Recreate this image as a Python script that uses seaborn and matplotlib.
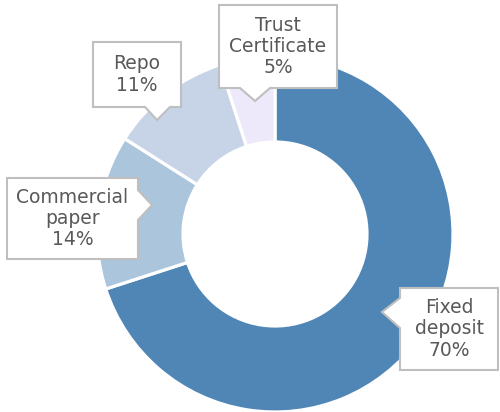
import matplotlib
matplotlib.use("Agg")
import matplotlib.pyplot as plt
from matplotlib.patches import Polygon
import seaborn as sns

# data
categories = ["Fixed deposit", "Commercial paper", "Repo", "Trust Certificate"]
shares = [70, 14, 11, 5]
colors = ["#4F86B6", "#ABC5DD", "#C7D4E8", "#EEE8FB"]

W, H = 500, 412

# callout layout in image pixels: box (x0, y0, x1, y1), pointer side, pointer base, tip
callouts = {
    "Trust Certificate": ((219, 5, 337, 88), "bottom", (240, 270), (255, 101)),
    "Repo": ((93, 42, 181, 107), "bottom", (145, 170), (157, 120)),
    "Commercial paper": ((7, 178, 138, 259), "right", (190, 220), (152, 205)),
    "Fixed deposit": ((400, 288, 498, 370), "left", (298, 328), (382, 312)),
}

sns.set_theme(style="white")
plt.rcParams['font.family'] = ['DejaVu Sans']

fig = plt.figure(figsize=(W / 100, H / 100), dpi=100)
ax = fig.add_axes([0, 0, 1, 1])

ax.pie(shares, colors=colors, startangle=90, counterclock=False,
       center=(275, H - 234), radius=178,
       wedgeprops=dict(width=86, edgecolor="white", linewidth=2.3))
ax.set_xlim(0, W)
ax.set_ylim(0, H)
ax.axis("off")


def flip(p):
    return (p[0], H - p[1])


def callout_shape(box, side, base, tip):
    x0, y0, x1, y1 = box
    if side == "bottom":
        pts = [(x0, y0), (x1, y0), (x1, y1), (base[1], y1), tip, (base[0], y1), (x0, y1)]
    elif side == "right":
        pts = [(x0, y0), (x1, y0), (x1, base[0]), tip, (x1, base[1]), (x1, y1), (x0, y1)]
    else:
        pts = [(x0, y0), (x1, y0), (x1, y1), (x0, y1), (x0, base[1]), tip, (x0, base[0])]
    return [flip(p) for p in pts]


for name, val in zip(categories, shares):
    box, side, base, tip = callouts[name]
    ax.add_patch(Polygon(callout_shape(box, side, base, tip), closed=True,
                         facecolor="white", edgecolor="#BFBFBF", linewidth=1.5, zorder=5))
    cx = (box[0] + box[2]) / 2
    cy = (box[1] + box[3]) / 2
    label = "\n".join(name.split()) + f"\n{val}%"
    ax.text(cx, H - cy, label, ha="center", va="center", fontsize=13.5,
            color="#595959", linespacing=1.15, zorder=6)

fig.savefig("out.png", dpi=100)
